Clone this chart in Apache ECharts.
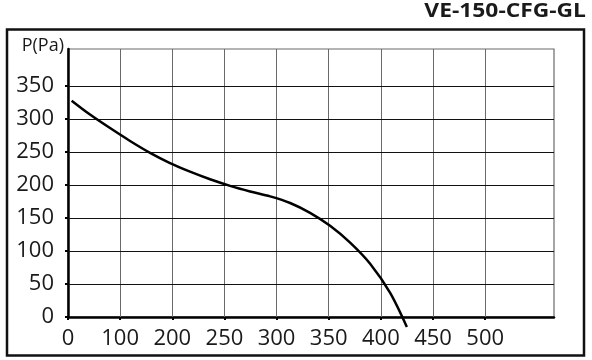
<!DOCTYPE html>
<html>
<head>
<meta charset="utf-8">
<script src="https://cdn.jsdelivr.net/npm/echarts@6/dist/echarts.min.js"></script>
<style>html,body{margin:0;padding:0;background:#fff}#c{width:592px;height:360px}</style>
</head>
<body>
<div id="c"></div>
<script>
// x axis positions are grid steps of 50; tick labels as printed on the reference
const xTicks = [0, 50, 100, 150, 200, 250, 300, 350, 400];
const xLabels = ['0', '100', '200', '250', '300', '350', '400', '450', '500'];
const yTicks = [0, 50, 100, 150, 200, 250, 300, 350];
const yLabels = ['0', '50', '100', '150', '200', '250', '300', '350'];
// curve (x in axis units, pressure in Pa)
const curveX = [3.5, 21.1, 40.3, 59.5, 78.7, 97.8, 117.0, 136.2, 155.4, 174.6, 193.8, 213.0, 232.1, 251.3, 270.5, 289.7, 308.9, 324.9];
const curveY = [327.7, 306.7, 286.2, 266.7, 248.7, 233.2, 220.2, 208.7, 198.7, 190.2, 182.7, 172.7, 157.7, 138.2, 112.7, 80.7, 36.5, -15];
const title = 'VE-150-CFG-GL';
const yName = 'P(Pa)';

const FONT = '"Open Sans", sans-serif';
const chart = echarts.init(document.getElementById('c'));
const markData = [];
xTicks.slice(1).forEach(v => markData.push({xAxis: v, lineStyle: {color: '#6a6a6a', width: 1, type: 'solid'}}));
yTicks.slice(1).forEach(v => markData.push({yAxis: v, lineStyle: {color: '#111', width: 1, type: 'solid'}}));

chart.setOption({
  animation: false,
  backgroundColor: '#fff',
  grid: {left: 68, top: 49, right: 38, bottom: 43, show: true, borderColor: '#6a6a6a', borderWidth: 1.2},
  xAxis: {
    type: 'value', min: 0, max: 466, interval: 50,
    axisLine: {show: true, lineStyle: {color: '#000', width: 2.5}},
    axisTick: {show: true, length: 3, customValues: xTicks, lineStyle: {color: '#000', width: 2}},
    axisLabel: {customValues: xTicks, margin: 11, color: '#1a1a1a', fontFamily: FONT, fontSize: 22,
      formatter: v => xLabels[Math.round(v / 50)] || ''},
    splitLine: {show: false}
  },
  yAxis: {
    type: 'value', min: 0, max: 406, interval: 50,
    axisLine: {show: true, lineStyle: {color: '#000', width: 2.5}},
    axisTick: {show: true, length: 3, customValues: yTicks, lineStyle: {color: '#000', width: 2}},
    axisLabel: {customValues: yTicks, margin: 14, color: '#1a1a1a', fontFamily: FONT, fontSize: 22,
      formatter: v => yLabels[yTicks.indexOf(v)] || ''},
    splitLine: {show: false}
  },
  graphic: [
    {type: 'rect', shape: {x: 7, y: 29.5, width: 577, height: 326}, style: {fill: 'none', stroke: '#111', lineWidth: 2.5}, z: 100},
    {type: 'text', x: 586, y: 12, scaleX: 1.2, style: {text: title, fontFamily: 'Open Sans', fontWeight: 'bold', fontSize: 19, fill: '#1a1a1a', align: 'right', verticalAlign: 'middle'}},
    {type: 'text', x: 64, y: 46, style: {text: yName, fontFamily: 'Open Sans', fontSize: 18, fill: '#1a1a1a', align: 'right', verticalAlign: 'middle'}}
  ],
  series: [{
    type: 'line',
    data: curveX.map((x, i) => [x, curveY[i]]),
    smooth: 0.3,
    showSymbol: false,
    clip: false,
    lineStyle: {color: '#000', width: 2.5},
    z: 5,
    markLine: {silent: true, symbol: ['none', 'none'], label: {show: false}, data: markData, z: 1}
  }]
});
</script>
</body>
</html>
